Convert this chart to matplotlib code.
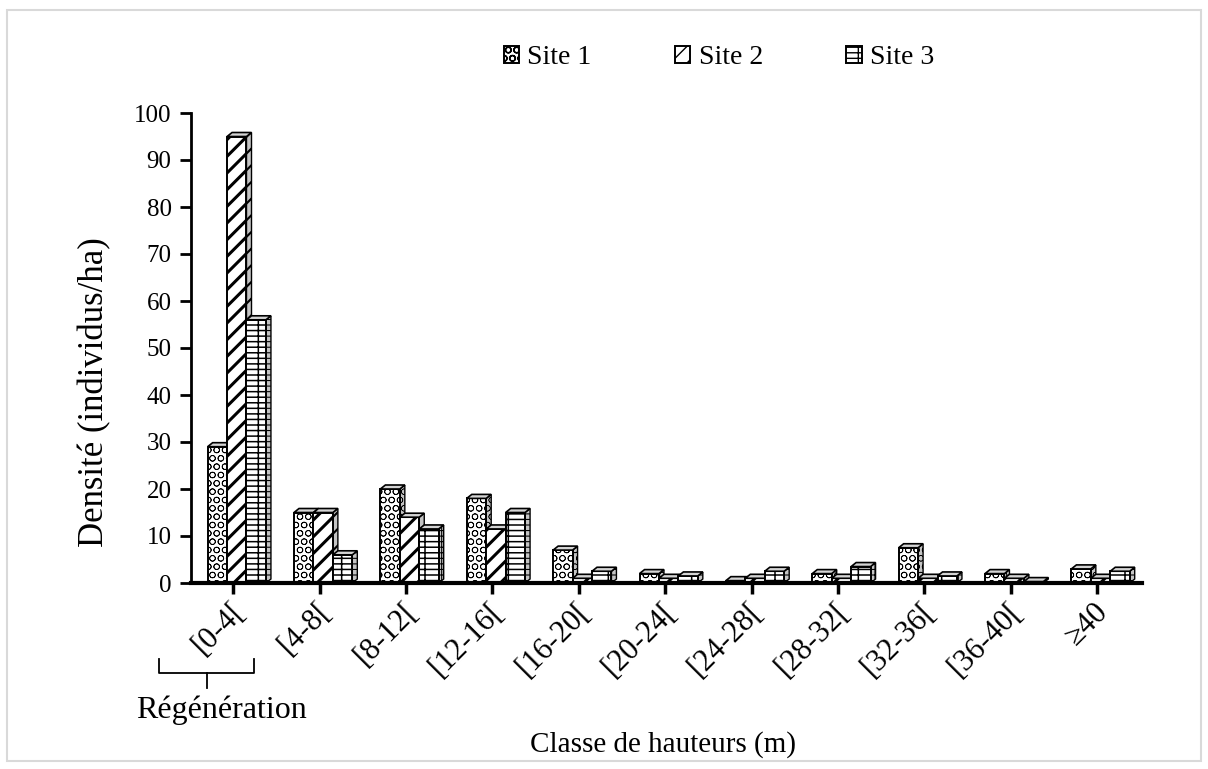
import numpy as np
import matplotlib
matplotlib.use("Agg")
import matplotlib.pyplot as plt
from matplotlib.patches import Polygon, Rectangle
from matplotlib.lines import Line2D
from matplotlib.transforms import offset_copy

plt.rcParams['font.family'] = ['Liberation Serif', 'DejaVu Serif']
plt.rcParams['hatch.linewidth'] = 1.0

categories = ['[0-4[', '[4-8[', '[8-12[', '[12-16[', '[16-20[', '[20-24[',
              '[24-28[', '[28-32[', '[32-36[', '[36-40[', '≥40']
site1 = [29, 15, 20, 18, 7, 2, 0.5, 2, 7.5, 2, 3]
site2 = [95, 15, 14, 11.5, 1, 1, 1, 1, 1, 1, 1]
site3 = [56, 6, 11.5, 15, 2.5, 1.5, 2.5, 3.5, 1.5, 0.3, 2.5]
series = ['Site 1', 'Site 2', 'Site 3']
hatches = ['OO', '//', '---|']
hatch_lw = [0.55, 2.2, 1.1]

W, H = 1208, 769
fig = plt.figure(figsize=(W / 100, H / 100), dpi=100)
ax = fig.add_axes([191 / W, 1 - 583 / H, (1142 - 191) / W, (583 - 113) / H])

x = np.arange(len(categories))
bw = 0.225
shift = 0.04
dx, dy = 0.058, 0.85  # depth of the 3D look, in data units


def set_hlw(p, lw):
    if hasattr(p, 'set_hatch_linewidth'):
        p.set_hatch_linewidth(lw)


for s, vals in enumerate([site1, site2, site3]):
    z = 2 + s
    bars = ax.bar(x + shift + (s - 1) * bw, vals, width=bw, color='white',
                  edgecolor='black', linewidth=1.4, hatch=hatches[s],
                  zorder=z + 0.2, label=series[s])
    for r in bars:
        set_hlw(r, hatch_lw[s])
        x0, w, h = r.get_x(), r.get_width(), r.get_height()
        x1 = x0 + w
        side = Polygon([(x1, 0), (x1, h), (x1 + dx, h + dy), (x1 + dx, dy)],
                       closed=True, facecolor='#c4c4c4', edgecolor='black',
                       linewidth=1.0, hatch=hatches[s], zorder=z + 0.1)
        set_hlw(side, hatch_lw[s] * 0.7)
        cap = Polygon([(x0, h), (x0 + dx, h + dy), (x1 + dx, h + dy), (x1, h)],
                      closed=True, facecolor='#d4d4d4', edgecolor='black',
                      linewidth=1.2, zorder=z + 0.3)
        ax.add_patch(side)
        ax.add_patch(cap)

ax.set_xlim(-0.49, 10.52)
ax.set_ylim(0, 100)
ax.set_yticks(np.arange(0, 101, 10))
ax.set_xticks(x)
ax.set_xticklabels([])
lab_tr = offset_copy(ax.get_xaxis_transform(), fig=fig, x=7, y=-24, units='dots')
for xi, lab in zip(x, categories):
    ax.text(xi, 0, lab, transform=lab_tr, rotation=45, ha='right', va='center',
            rotation_mode='anchor', fontsize=22)
ax.tick_params(axis='x', length=8, width=2.5)
ax.tick_params(axis='y', length=8, width=2, pad=6, labelsize=18)

for side_name in ['top', 'right']:
    ax.spines[side_name].set_visible(False)
ax.spines['left'].set_linewidth(2)
ax.spines['bottom'].set_linewidth(3)
ax.spines['bottom'].set_zorder(6)

ax.set_ylabel('Densité (individus/ha)', fontsize=25)
ax.yaxis.set_label_coords(-0.084, 0.406)

fig.text(663 / W, 1 - 745 / H, 'Classe de hauteurs (m)', fontsize=21,
         ha='center', va='center')

# brace under the first class
bx = [159, 159, 254, 254]
by = [659, 673, 673, 659]
fig.add_artist(Line2D([v / W for v in bx], [1 - v / H for v in by],
                      color='black', lw=1.3, transform=fig.transFigure))
fig.add_artist(Line2D([207 / W, 207 / W], [1 - 673 / H, 1 - 688 / H],
                      color='black', lw=1.3, transform=fig.transFigure))
fig.text(221 / W, 1 - 710 / H, 'Régénération', fontsize=23,
         ha='center', va='center')

leg = fig.legend(loc='center', bbox_to_anchor=(719 / W, 1 - 58 / H), ncol=3,
                 frameon=False, fontsize=20, handlelength=0.55,
                 handleheight=0.55, handletextpad=0.3, columnspacing=3.0)

# chart area border
fig.add_artist(Rectangle((7 / W, 8 / H), 1194 / W, 751 / H, fill=False,
                         edgecolor='#d9d9d9', linewidth=1.5,
                         transform=fig.transFigure))

fig.savefig('out.png', dpi=100)
